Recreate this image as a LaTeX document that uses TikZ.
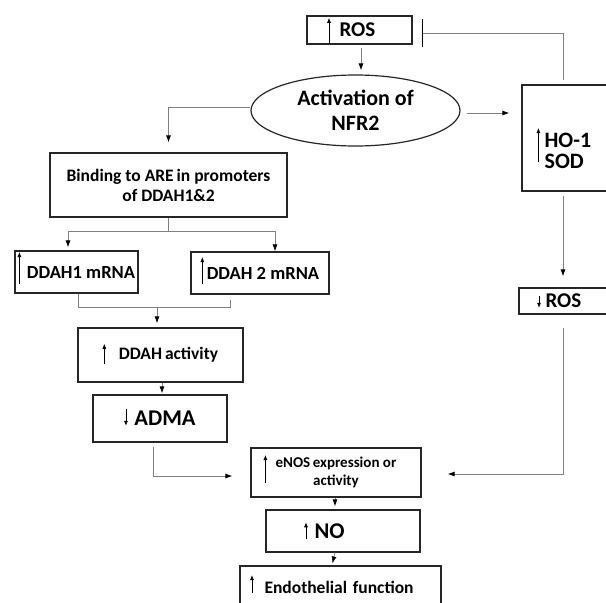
\documentclass[tikz,border=0pt]{standalone}
\usepackage{fontspec}
\setmainfont{Carlito}
\usepackage{tikz}
\usetikzlibrary{arrows.meta}
\usetikzlibrary{shapes.geometric}
\usetikzlibrary{calc}
\tikzset{>=latex, line width=0.8pt}
\newcommand{\fsz}[2]{\fontsize{#1}{#2}\selectfont}
\tikzset{
  box/.style={draw=black!85,line width=1.2pt,rectangle,inner sep=0pt,align=center},
  link/.style={draw=black!50,line width=0.8pt},
  conn/.style={link,-{Latex[length=7pt,width=5pt,color=black]}},
  trend/.style={line width=0.7pt,-{Latex[length=5pt,width=4pt]}},
}
\newcommand{\upar}[2]{\tikz[baseline=0pt,x=1pt,y=1pt]{\path (-1.5,0) rectangle (1.5,0);\draw[trend,overlay] (0,-#1) -- (0,#2);}}
\newcommand{\dnar}[1]{\tikz[baseline=0pt,x=1pt,y=1pt]{\path (-1.5,0) rectangle (1.5,0);\draw[trend,overlay] (0,#1) -- (0,0);}}

\begin{document}
\begin{tikzpicture}[x=1pt,y=-1pt]
  \clip (0,0) rectangle (606,603);

  % top: ROS and Nrf2
  \node[box,font=\bfseries\fsz{21}{24},minimum width=105,minimum height=28,text width=64pt,align=left] (rosup) at (359.5,30) {\upar{7}{19}\hspace{9pt}ROS};
  \node[draw=black!85,line width=1.2pt,ellipse,minimum width=209,minimum height=71,inner sep=0pt,align=center,font=\bfseries\fsz{22}{25}] (nrf) at (355.5,110.5) {Activation of\\NFR2};

  % right branch
  \node[box,minimum width=88,minimum height=106] (hobox) at (566,138) {};
  \node[font=\bfseries\fsz{22}{21.5},align=left,inner sep=0pt,anchor=west] (hotxt) at ($(hobox.west)+(23,12.8)$) {HO-1\\SOD};
  \draw[trend] ($(hotxt.west)+(-6,11.2)$) -- ++(0,-34);
  \node[box,font=\bfseries\fsz{21}{24},minimum width=95,minimum height=26,text width=58pt,align=left] (rosdn) at (566.5,301) {\dnar{12}\hspace{5pt}ROS};

  % left branch
  \node[box,font=\bfseries\fsz{17.5}{20},minimum width=237,minimum height=64] (bind) at (168.5,185) {Binding to ARE\,in promoters\\of DDAH1\&2};
  \node[box,font=\bfseries\fsz{18.5}{22},minimum width=123,minimum height=42] (ddah1) at (76.5,272) {\upar{6}{26}\hspace{6pt}DDAH1 mRNA};
  \node[box,font=\bfseries\fsz{18.5}{22},minimum width=138,minimum height=42] (ddah2) at (260,273) {\upar{5}{22}\hspace{3pt}DDAH 2 mRNA};
  \node[box,font=\bfseries\fsz{17.5}{21},minimum width=165,minimum height=54] (ddahact) at (160.5,355) {\upar{4}{16}\hspace{13pt}DDAH\,activity};
  \node[box,font=\bfseries\fsz{22.5}{26},minimum width=134,minimum height=47] (adma) at (160,418.5) {\dnar{17}\hspace{7pt}ADMA};

  % bottom
  \node[box,font=\bfseries\fsz{15}{18},minimum width=170,minimum height=49] (enos) at (336,472.5) {eNOS\,expression or\\activity};
  \draw[trend] ($(enos.west)+(15,10.5)$) -- ++(0,-28);
  \node[box,font=\bfseries\fsz{22.5}{26},minimum width=154,minimum height=42,text width=77pt,align=left] (no) at (343,531) {\upar{1}{16}\hspace{7pt}NO};
  \node[box,font=\bfseries\fsz{17.5}{21},minimum width=201,minimum height=42,text width=180pt,align=left] (endo) at (340.5,587) {\upar{0}{18}\hspace{11pt}Endothelial function};

  % connectors
  \draw[conn,shorten <=3,shorten >=4] ([xshift=1.5pt]rosup.south) -- ([xshift=1.5pt]rosup.south |- nrf.north);
  \draw[conn,shorten <=6,shorten >=12] ([yshift=-2.5pt]nrf.east) -- ([yshift=-2.5pt]nrf.east -| hobox.west);
  \draw[link,-{Bar[width=28pt,line width=1.2pt,color=black]},shorten <=4,shorten >=9] ([xshift=-3pt]hobox.north) |- ([yshift=-3pt]rosup.east);
  \draw[conn,shorten >=10] ([yshift=3.5pt]nrf.west) -| (bind.north);

  \draw[link] (bind.south) -- ++(0,14) coordinate (split);
  \draw[conn,shorten >=3] (split) -| ([xshift=-8.5pt]ddah1.north);
  \draw[conn] (split) -| ([xshift=15pt]ddah2.north);

  \coordinate (mrg) at (157,307);
  \draw[link] ([xshift=1.5pt]ddah1.south) |- (mrg);
  \draw[link,shorten <=5] ([xshift=-30pt]ddah2.south) |- (mrg);
  \draw[conn,shorten >=4] (mrg) -- (mrg |- ddahact.north);
  \draw[conn,shorten >=1] ([xshift=1.5pt]ddahact.south) -- ([xshift=1.5pt]ddahact.south |- adma.north);

  \draw[conn,shorten <=4,shorten >=18] ([xshift=-7pt]adma.south) |- ([yshift=-3.5pt]enos.west);
  \draw[conn,shorten <=4,shorten >=11] ([xshift=-3pt]hobox.south) -- ([xshift=-3pt]hobox.south |- rosdn.north);
  \draw[conn,shorten <=13,shorten >=26] ([xshift=-3.5pt]rosdn.south) |- ([yshift=-1.5pt]enos.east);

  \draw[conn,shorten >=3] ([xshift=-1pt]enos.south) -- ([xshift=-1pt]enos.south |- no.north);
  \draw[conn,shorten >=2] ([xshift=-8pt]no.south) -- ([xshift=-8.5pt]endo.north);
\end{tikzpicture}
\end{document}
